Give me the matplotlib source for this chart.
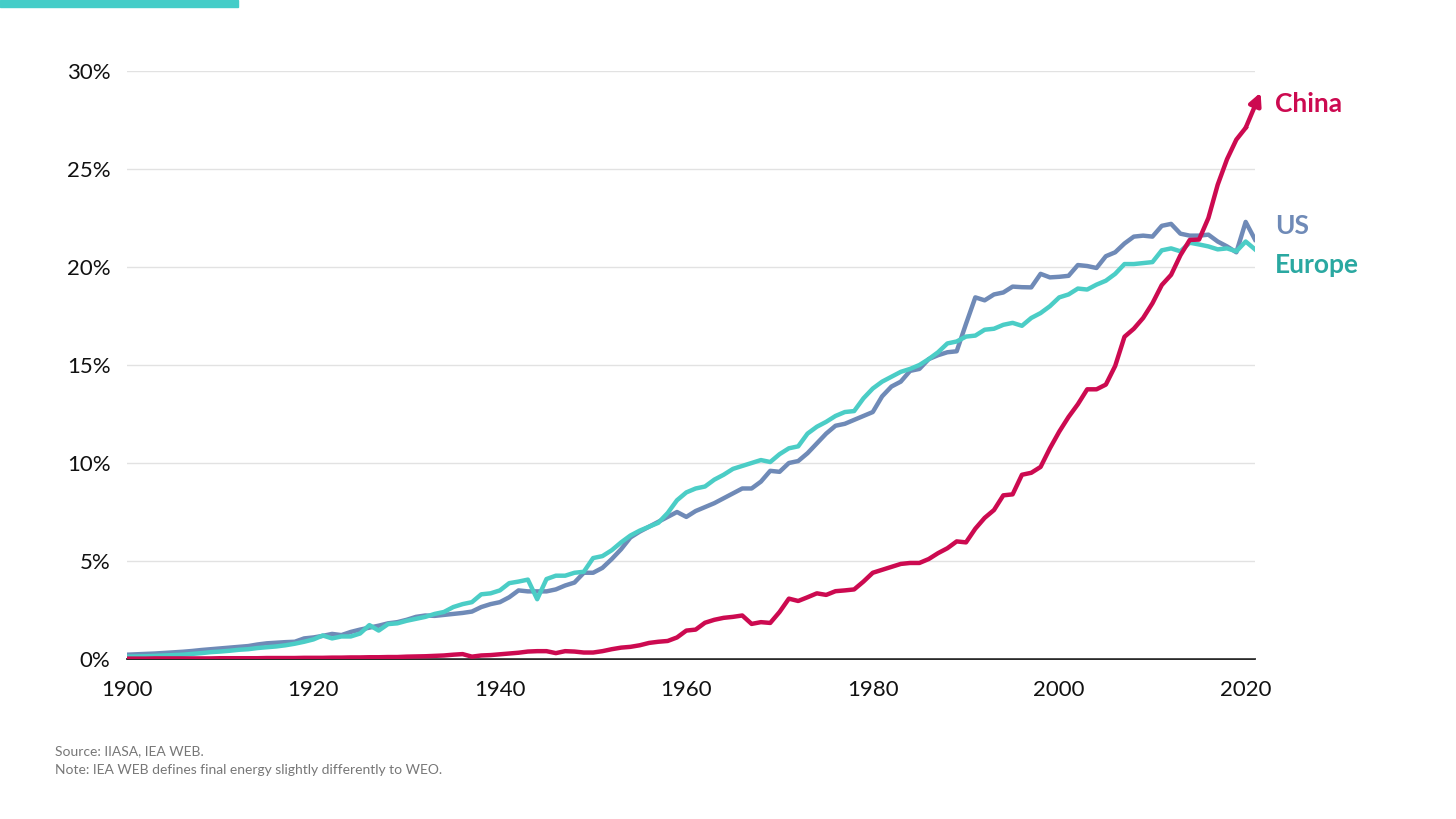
import numpy as np
import matplotlib.pyplot as plt
from matplotlib.patches import Rectangle

plt.rcParams['font.family'] = ['Lato', 'DejaVu Sans']

years = np.arange(1900, 2022)

# share of electricity in final energy consumption, %
us = [
    0.22, 0.24, 0.26, 0.28, 0.31, 0.34, 0.37, 0.41, 0.46, 0.50,
    0.54, 0.58, 0.62, 0.66, 0.74, 0.80, 0.83, 0.86, 0.88, 1.05,
    1.10, 1.18, 1.28, 1.22, 1.38, 1.50, 1.60, 1.70, 1.82, 1.88,
    2.00, 2.15, 2.22, 2.20, 2.25, 2.30, 2.35, 2.42, 2.65, 2.80,
    2.90, 3.15, 3.50, 3.45, 3.45, 3.45, 3.55, 3.75, 3.90, 4.40,
    4.40, 4.65, 5.10, 5.60, 6.20, 6.50, 6.75, 7.00, 7.25, 7.50,
    7.25, 7.55, 7.75, 7.95, 8.20, 8.45, 8.70, 8.70, 9.05, 9.60,
    9.55, 10.00, 10.10, 10.50, 11.00, 11.50, 11.90, 12.00, 12.20, 12.40,
    12.60, 13.40, 13.90, 14.15, 14.70, 14.80, 15.30, 15.50, 15.65, 15.70,
    17.10, 18.45, 18.30, 18.60, 18.70, 19.00, 18.97, 18.96, 19.65, 19.47,
    19.50, 19.55, 20.10, 20.05, 19.95, 20.55, 20.75, 21.20, 21.55, 21.60,
    21.55, 22.10, 22.20, 21.70, 21.60, 21.60, 21.65, 21.30, 21.05, 20.75,
    22.30, 21.40,
]

europe = [
    0.12, 0.13, 0.14, 0.16, 0.18, 0.20, 0.22, 0.26, 0.30, 0.35,
    0.38, 0.42, 0.47, 0.50, 0.56, 0.60, 0.64, 0.70, 0.78, 0.88,
    1.00, 1.20, 1.05, 1.15, 1.15, 1.30, 1.73, 1.45, 1.78, 1.82,
    1.95, 2.05, 2.15, 2.30, 2.40, 2.65, 2.80, 2.90, 3.30, 3.35,
    3.50, 3.87, 3.95, 4.05, 3.05, 4.08, 4.25, 4.25, 4.40, 4.45,
    5.15, 5.25, 5.55, 5.95, 6.30, 6.55, 6.75, 6.95, 7.45, 8.10,
    8.50, 8.70, 8.80, 9.15, 9.40, 9.70, 9.85, 10.00, 10.15, 10.05,
    10.45, 10.75, 10.85, 11.50, 11.85, 12.10, 12.40, 12.60, 12.65, 13.30,
    13.80, 14.15, 14.40, 14.65, 14.80, 15.00, 15.30, 15.65, 16.10, 16.20,
    16.45, 16.50, 16.80, 16.85, 17.05, 17.15, 17.00, 17.40, 17.65, 18.00,
    18.45, 18.60, 18.90, 18.85, 19.10, 19.30, 19.65, 20.15, 20.15, 20.20,
    20.25, 20.85, 20.95, 20.80, 21.24, 21.15, 21.05, 20.90, 20.95, 20.80,
    21.30, 20.90,
]

china = [
    0.02, 0.02, 0.02, 0.03, 0.03, 0.03, 0.03, 0.03, 0.03, 0.03,
    0.04, 0.04, 0.04, 0.04, 0.04, 0.05, 0.05, 0.05, 0.05, 0.06,
    0.06, 0.06, 0.07, 0.07, 0.08, 0.08, 0.09, 0.09, 0.10, 0.10,
    0.12, 0.13, 0.14, 0.16, 0.18, 0.22, 0.25, 0.12, 0.18, 0.20,
    0.24, 0.28, 0.32, 0.38, 0.40, 0.40, 0.30, 0.40, 0.38, 0.33,
    0.33, 0.40, 0.50, 0.58, 0.62, 0.70, 0.82, 0.88, 0.92, 1.10,
    1.45, 1.50, 1.85, 2.00, 2.10, 2.15, 2.22, 1.79, 1.88, 1.84,
    2.40, 3.08, 2.96, 3.15, 3.35, 3.27, 3.46, 3.50, 3.55, 3.95,
    4.40, 4.55, 4.70, 4.85, 4.90, 4.90, 5.10, 5.40, 5.65, 6.00,
    5.95, 6.65, 7.20, 7.60, 8.35, 8.40, 9.40, 9.50, 9.80, 10.75,
    11.60, 12.35, 13.00, 13.76, 13.76, 14.00, 14.95, 16.44, 16.85, 17.40,
    18.15, 19.08, 19.60, 20.60, 21.38, 21.40, 22.50, 24.20, 25.50, 26.50,
    27.10, 28.30,
]

yticks = [0, 5, 10, 15, 20, 25, 30]
xticks = [1900, 1920, 1940, 1960, 1980, 2000, 2020]

c_us = '#6f8ab7'
c_eu = '#4bcdc6'
c_eu_label = '#2aa8a1'
c_cn = '#cc0a50'

fig = plt.figure(figsize=(14.56, 8.19), dpi=100)
ax = fig.add_axes([127 / 1456, 1 - 659 / 819, 1128 / 1456, 588 / 819])

ax.plot(years, us, color=c_us, lw=3.2, solid_joinstyle='round')
ax.plot(years, europe, color=c_eu, lw=3.2, solid_joinstyle='round')
ax.plot(years[:-1], china[:-1], color=c_cn, lw=3.2, solid_joinstyle='round')
ax.annotate('', xy=(years[-1] + 0.6, china[-1] + 0.6),
            xytext=(years[-2], china[-2]), annotation_clip=False,
            arrowprops=dict(arrowstyle='-|>', color=c_cn, lw=3.2,
                            mutation_scale=18, shrinkA=0, shrinkB=0))

ax.set_xlim(1900, 2021)
ax.set_ylim(0, 30)
ax.set_yticks(yticks)
ax.set_yticklabels([f'{v}%' for v in yticks])
ax.set_xticks(xticks)
ax.grid(axis='y', color='#e2e2e2', lw=1)
ax.set_axisbelow(True)
for s in ['top', 'right', 'left']:
    ax.spines[s].set_visible(False)
ax.spines['bottom'].set_color('black')
ax.spines['bottom'].set_linewidth(1.2)
ax.spines['bottom'].set_zorder(0.5)
ax.tick_params(axis='both', length=0, labelsize=16, colors='#111111')
ax.tick_params(axis='x', pad=15)
ax.tick_params(axis='y', pad=12)

# series labels at the right end
fig.text(1275 / 1456, 1 - 104 / 819, 'China', color=c_cn, fontsize=19,
         fontweight='bold', va='center')
fig.text(1275 / 1456, 1 - 226 / 819, 'US', color=c_us, fontsize=19,
         fontweight='bold', va='center')
fig.text(1275 / 1456, 1 - 265 / 819, 'Europe', color=c_eu_label, fontsize=19,
         fontweight='bold', va='center')

# teal bar in the top-left corner
fig.patches.append(Rectangle((0, 1 - 7 / 819), 238 / 1456, 7 / 819,
                             transform=fig.transFigure, color='#45cdc8'))

fig.text(55 / 1456, 1 - 751 / 819, 'Source: IIASA, IEA WEB.', color='#777777',
         fontsize=10, va='center')
fig.text(55 / 1456, 1 - 770 / 819,
         'Note: IEA WEB defines final energy slightly differently to WEO.',
         color='#777777', fontsize=10, va='center')

fig.savefig('out.png', dpi=100)
